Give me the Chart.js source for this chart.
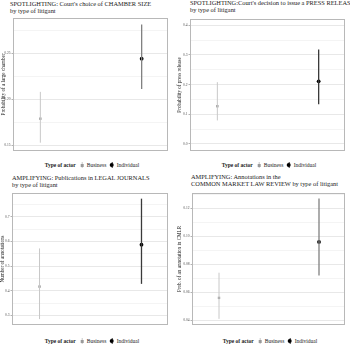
<!DOCTYPE html>
<html lang="en">
<head>
<meta charset="UTF-8">
<title>Litigant type: spotlighting and amplifying</title>
<script src="https://cdn.jsdelivr.net/npm/chart.js@4.4.0/dist/chart.umd.min.js"></script>
<style>
  body { margin: 0; background: #fff; }
  #wrap { position: relative; width: 350px; height: 347px; overflow: hidden; font-family: "Liberation Serif", "DejaVu Serif", serif; color: #1a1a1a; }
  canvas { position: absolute; }
  .title { position: absolute; font-size: 6.4px; line-height: 7.4px; white-space: nowrap; }
  .legend { position: absolute; font-size: 5.5px; line-height: 7px; white-space: nowrap; transform: translateX(-50%); }
  .legend b { margin-right: 2px; }
  .key { display: inline-block; position: relative; width: 6px; height: 6px; vertical-align: -1px; margin: 0 2px 0 1px; }
  .key::before { content: ''; position: absolute; left: 2.5px; top: 0; width: 1px; height: 6px; }
  .key::after { content: ''; position: absolute; }
  .key.bus::before { background: #c8c8c8; }
  .key.bus::after { left: 1.5px; top: 1.5px; width: 3px; height: 3px; background: #9a9a9a; }
  .key.ind::before { background: #333; }
  .key.ind::after { left: 1px; top: 1px; width: 4px; height: 4px; border-radius: 50%; background: #000; }
</style>
</head>
<body>
<div id="wrap">
  <div class="title" style="left:10px; top:0px">SPOTLIGHTING: Court's choice of CHAMBER SIZE<br>by type of litigant</div>
  <div class="title" style="left:190px; top:-1px">SPOTLIGHTING:Court's decision to issue a PRESS RELEASE<br>by type of litigant</div>
  <div class="title" style="left:12px; top:174px">AMPLIFYING: Publications in LEGAL JOURNALS<br>by type of litigant</div>
  <div class="title" style="left:191px; top:173px">AMPLIFYING: Annotations in the<br>COMMON MARKET LAW REVIEW by type of litigant</div>

  <canvas id="c1"></canvas>
  <canvas id="c2"></canvas>
  <canvas id="c3"></canvas>
  <canvas id="c4"></canvas>

  <div class="legend" style="left:92px; top:162px"><b>Type of actor</b><span class="key bus"></span>Business <span class="key ind"></span>Individual</div>
  <div class="legend" style="left:269px; top:162px"><b>Type of actor</b><span class="key bus"></span>Business <span class="key ind"></span>Individual</div>
  <div class="legend" style="left:92px; top:338px"><b>Type of actor</b><span class="key bus"></span>Business <span class="key ind"></span>Individual</div>
  <div class="legend" style="left:270px; top:338px"><b>Type of actor</b><span class="key bus"></span>Business <span class="key ind"></span>Individual</div>
</div>

<script>
// categories (placed at x = 0 and 1 on a hidden linear axis)
const categories = ['Business', 'Individual'];
const catX = [0, 1];

// SPOTLIGHTING: chamber size
const chamberMean = [0.179, 0.244];
const chamberLow = [0.153, 0.211];
const chamberHigh = [0.208, 0.281];
const chamberTicks = ['0.15', '0.20', '0.25'];
const chamberRange = [0.144, 0.288];

// SPOTLIGHTING: press release
const pressMean = [0.127, 0.211];
const pressLow = [0.079, 0.134];
const pressHigh = [0.208, 0.318];
const pressTicks = ['0.0', '0.1', '0.2', '0.3', '0.4'];
const pressRange = [-0.024, 0.421];

// AMPLIFYING: legal journals
const journalMean = [0.417, 0.587];
const journalLow = [0.285, 0.428];
const journalHigh = [0.572, 0.774];
const journalTicks = ['0.3', '0.4', '0.5', '0.6', '0.7'];
const journalRange = [0.261, 0.797];

// AMPLIFYING: CMLR annotations
const cmlrMean = [0.056, 0.096];
const cmlrLow = [0.041, 0.072];
const cmlrHigh = [0.074, 0.127];
const cmlrTicks = ['0.04', '0.06', '0.08', '0.10', '0.12'];
const cmlrRange = [0.0366, 0.131];

// grey frame round the plot area
const framePlugin = {
  id: 'frame',
  afterDraw(chart) {
    const a = chart.chartArea, ctx = chart.ctx;
    ctx.save();
    ctx.strokeStyle = '#b8b8b8';
    ctx.lineWidth = 1;
    ctx.strokeRect(Math.round(a.left) + 0.5, Math.round(a.top) + 0.5,
      Math.round(a.right - a.left) - 1, Math.round(a.bottom - a.top) - 1);
    ctx.restore();
  }
};

function makePanel(id, o) {
  const canvas = document.getElementById(id);
  // canvas covers axis strip + plot area, with 1px spare top/bottom/right
  canvas.width = o.plotRight - o.left + 1;
  canvas.height = o.plotBottom - o.plotTop + 2;
  canvas.style.left = o.left + 'px';
  canvas.style.top = (o.plotTop - 1) + 'px';

  const majors = o.ticks.map(Number);
  const minorStep = (majors[1] - majors[0]) / 2;
  const majorIndex = v => majors.findIndex(m => Math.abs(m - v) < minorStep / 10);

  const barData = i => [{ x: catX[i], y: o.low[i] }, { x: catX[i], y: o.high[i] }];
  const pointData = i => [{ x: catX[i], y: o.mean[i] }];

  new Chart(canvas, {
    type: 'scatter',
    data: {
      datasets: [
        { label: categories[0], data: barData(0), showLine: true, borderColor: '#c8c8c8', borderWidth: 1, pointRadius: 0 },
        { label: categories[1], data: barData(1), showLine: true, borderColor: o.indBar, borderWidth: 1.3, pointRadius: 0 },
        { label: categories[0], data: pointData(0), pointStyle: 'rect', pointRadius: 1.7, backgroundColor: '#9a9a9a', borderWidth: 0 },
        { label: categories[1], data: pointData(1), pointStyle: 'circle', pointRadius: 1.9, backgroundColor: '#000', borderWidth: 0 }
      ]
    },
    options: {
      responsive: false,
      devicePixelRatio: 1,
      animation: false,
      layout: { padding: { top: 1, bottom: 1, right: 1, left: 0 } },
      plugins: { legend: { display: false }, tooltip: { enabled: false } },
      scales: {
        x: { type: 'linear', display: false, min: -0.27, max: 1.26 },
        y: {
          type: 'linear',
          min: o.range[0],
          max: o.range[1],
          afterFit(scale) {
            scale.width = o.plotLeft - o.left;
            scale.paddingTop = 0;
            scale.paddingBottom = 0;
          },
          border: { display: false },
          grid: {
            color: ctx => majorIndex(ctx.tick.value) >= 0 ? '#e8e8e8' : '#f4f4f4',
            tickColor: ctx => majorIndex(ctx.tick.value) >= 0 ? '#b3b3b3' : 'rgba(0,0,0,0)',
            tickLength: 1.5,
            lineWidth: 1
          },
          ticks: {
            stepSize: minorStep,
            includeBounds: false,
            autoSkip: false,
            padding: 1,
            color: '#4d4d4d',
            font: { family: 'Liberation Serif', size: 3.6, lineHeight: 1 },
            callback: v => { const i = majorIndex(v); return i >= 0 ? o.ticks[i] : ''; }
          },
          title: {
            display: true,
            text: o.yTitle,
            color: '#1a1a1a',
            font: { family: 'Liberation Serif', size: 5.1 },
            padding: { top: o.titlePad, bottom: 0 }
          }
        }
      }
    },
    plugins: [framePlugin]
  });
}

makePanel('c1', { left: 0, plotLeft: 13, plotTop: 15, plotRight: 171, plotBottom: 154,
  mean: chamberMean, low: chamberLow, high: chamberHigh, ticks: chamberTicks, range: chamberRange,
  yTitle: 'Probability of a large chamber', titlePad: 0.5, indBar: '#808080' });
makePanel('c2', { left: 175, plotLeft: 190, plotTop: 16, plotRight: 348, plotBottom: 154,
  mean: pressMean, low: pressLow, high: pressHigh, ticks: pressTicks, range: pressRange,
  yTitle: 'Probability of press release', titlePad: 2, indBar: '#3a3a3a' });
makePanel('c3', { left: 0, plotLeft: 12, plotTop: 190, plotRight: 171, plotBottom: 328,
  mean: journalMean, low: journalLow, high: journalHigh, ticks: journalTicks, range: journalRange,
  yTitle: 'Number of annotations', titlePad: 0, indBar: '#3a3a3a' });
makePanel('c4', { left: 175, plotLeft: 192, plotTop: 190, plotRight: 348, plotBottom: 328,
  mean: cmlrMean, low: cmlrLow, high: cmlrHigh, ticks: cmlrTicks, range: cmlrRange,
  yTitle: 'Prob. of an annotation in CMLR', titlePad: 2, indBar: '#808080' });
</script>
</body>
</html>
